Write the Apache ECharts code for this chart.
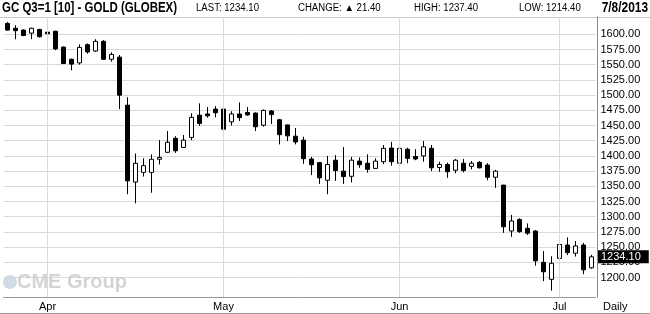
<!DOCTYPE html>
<html>
<head>
<meta charset="utf-8">
<script src="https://cdn.jsdelivr.net/npm/echarts@6/dist/echarts.min.js"></script>
<style>html,body{margin:0;padding:0;background:#fff}#c{width:650px;height:314px}</style>
</head>
<body>
<div id="c"></div>
<script>
const dates = ['2013-03-22','2013-03-25','2013-03-26','2013-03-27','2013-03-28',
'2013-04-01','2013-04-02','2013-04-03','2013-04-04','2013-04-05','2013-04-08','2013-04-09','2013-04-10','2013-04-11','2013-04-12',
'2013-04-15','2013-04-16','2013-04-17','2013-04-18','2013-04-19','2013-04-22','2013-04-23','2013-04-24','2013-04-25','2013-04-26','2013-04-29','2013-04-30',
'2013-05-01','2013-05-02','2013-05-03','2013-05-06','2013-05-07','2013-05-08','2013-05-09','2013-05-10','2013-05-13','2013-05-14','2013-05-15','2013-05-16','2013-05-17',
'2013-05-20','2013-05-21','2013-05-22','2013-05-23','2013-05-24','2013-05-28','2013-05-29','2013-05-30','2013-05-31',
'2013-06-03','2013-06-04','2013-06-05','2013-06-06','2013-06-07','2013-06-10','2013-06-11','2013-06-12','2013-06-13','2013-06-14',
'2013-06-17','2013-06-18','2013-06-19','2013-06-20','2013-06-21','2013-06-24','2013-06-25','2013-06-26','2013-06-27','2013-06-28',
'2013-07-01','2013-07-02','2013-07-03','2013-07-05','2013-07-08'];
const open  = [1618,1610,1607,1602,1608, 1603.5,1605,1579,1559,1553,1583,1572.5,1588.5,1559,1562.5,
1483.5,1357,1373,1373,1394.5,1406,1429,1414,1430.5,1467,1469,1477,
1477,1456,1469,1471.5,1470.5,1450.5,1474,1459.5,1451,1432.5,1426,1395,1389,
1360,1393,1375,1366.5,1391.5,1388,1379.5,1390.5,1413,
1388,1411,1399,1400,1412.5,1381,1386,1376.5,1388,1383,
1389.5,1385,1365,1352,1276.5,1295.5,1281,1276.5,1225,1197,
1231.5,1253.5,1240,1253.5,1216];
const close = [1607,1606,1598,1610,1596, 1601,1576,1552,1551,1578.5,1571,1588.5,1559,1567,1500,
1359,1388,1384,1394.5,1397.5,1422.5,1408.5,1426,1463.5,1453.5,1466,1471,
1444,1469,1463,1467.5,1448,1475,1468,1435,1433,1423,1395.5,1385.5,1364,
1386,1376,1366,1393,1385.5,1378,1391.5,1412.5,1390.5,
1412.5,1396,1395,1415,1380.5,1386,1374,1393,1376,1388,
1380.5,1365,1375,1283.5,1293,1275.5,1273,1227.5,1209.5,1223.5,
1254.5,1241,1252,1212.7,1234.1];
const low   = [1606,1592,1597,1592,1595, 1596,1574,1551,1541,1550,1568,1571,1558,1555,1477,
1337,1322,1366,1339.5,1386,1405,1405,1413,1426,1449.5,1463,1463.5,
1442.5,1450,1457.5,1466,1441,1448,1452.5,1419,1424.5,1419,1387,1368.5,1354,
1337,1359,1354,1356.5,1380.5,1372.5,1379,1386.5,1384,
1387.5,1388,1393,1390.5,1375,1374,1364,1371.5,1373,1378,
1379.5,1360,1347.5,1273.5,1267,1273.5,1270,1219.5,1194,1178.5,
1222,1237,1234.5,1205.5,1214.4];
const high  = [1620,1615,1608,1611,1609, 1604.5,1606,1580,1560,1583.5,1585,1592,1590.5,1570.5,1566,
1496.5,1404,1396,1402.5,1426,1441,1432.5,1434.5,1470,1486.5,1480.5,1482,
1478.5,1473.5,1488,1480.5,1471.5,1476.5,1475.5,1461,1451.5,1446,1431.5,1398.5,1389.5,
1400,1401.5,1414.5,1398.5,1397.5,1402.5,1396,1418,1423,
1416,1413.5,1411,1424.5,1418,1390.5,1389,1395,1395,1391.5,
1391.5,1388,1377,1352.5,1303,1297.5,1289,1278,1243.5,1235,
1261.5,1266,1260,1257,1237.4];
const yTicks = [1200,1225,1250,1275,1300,1325,1350,1375,1400,1425,1450,1475,1500,1525,1550,1575,1600];
const monthStarts = ['2013-04-01','2013-05-01','2013-06-03','2013-07-01'];
const monthLabels = ['Apr','May','Jun','Jul'];
const lastPrice = 1234.10;
const header = {title:'GC Q3=1 [10] - GOLD (GLOBEX)', last:'LAST: 1234.10', change:'CHANGE: \u25B2 21.40', high:'HIGH: 1237.40', low:'LOW: 1214.40', date:'7/8/2013'};

const ohlc = dates.map((d,i)=>[open[i],close[i],low[i],high[i]]);
const sans = '"Liberation Sans",Arial,sans-serif';
const chart = echarts.init(document.getElementById('c'), null, {renderer:'canvas'});
function hdr(text, x, font, sx, align){
  return {type:'text',x:x,y:8,scaleX:sx,style:{text:text,font:font,fill:'#000',align:align||'left',verticalAlign:'middle'}};
}
chart.setOption({
  animation:false,
  backgroundColor:'#fff',
  grid:{left:3.5,right:54.5,top:17,bottom:17,containLabel:false},
  xAxis:{type:'category',data:dates,boundaryGap:true,
    axisLine:{show:true,lineStyle:{color:'#999',width:1}},
    axisTick:{show:false},
    splitLine:{show:false},
    axisLabel:{margin:4,color:'#000',fontSize:11,fontFamily:sans,
      interval:(idx,val)=>monthStarts.indexOf(val)>=0,
      formatter:(val)=>{const k=monthStarts.indexOf(val);return k>=0?monthLabels[k]:'';}}},
  yAxis:{type:'value',position:'right',offset:2,min:1168,max:1628.5,scale:true,
    axisLine:{show:true,lineStyle:{color:'#888',width:1}},
    axisTick:{show:false,customValues:yTicks},
    splitLine:{show:true,lineStyle:{color:'#d9d9d9',width:1}},
    axisLabel:{customValues:yTicks,margin:3,color:'#000',fontSize:11,fontFamily:sans,
      formatter:(v)=>v.toFixed(2),padding:[3,0,0,0]}},
  series:[{
    type:'candlestick',data:ohlc,barWidth:5,
    itemStyle:{color:'#fff',color0:'#000',borderColor:'#000',borderColor0:'#000',borderWidth:1},
    markLine:{silent:true,symbol:'none',animation:false,
      data:[
        ...monthStarts.map(m=>({xAxis:m,lineStyle:{color:'#d9d9d9',width:1,type:'solid'},label:{show:false}})),
        {yAxis:lastPrice,lineStyle:{color:'rgba(0,0,0,0)',width:0},label:{show:true,position:'end',distance:2.5,
          formatter:lastPrice.toFixed(2),backgroundColor:'#000',color:'#fff',fontSize:11,
          fontFamily:sans,padding:[1,8,1,3]}}
      ]}
  }],
  graphic:[
    {type:'line',shape:{x1:0,y1:17.5,x2:650,y2:17.5},style:{stroke:'#c8c8c8',lineWidth:1},z:0},
    {type:'line',shape:{x1:0,y1:313.5,x2:650,y2:313.5},style:{stroke:'#999',lineWidth:1}},
    hdr(header.title,2,'bold 14px '+sans,0.82),
    hdr(header.last,196,'10px '+sans,0.96),
    hdr(header.change,298,'10px '+sans,0.96),
    hdr(header.high,414,'10px '+sans,0.96),
    hdr(header.low,519,'10px '+sans,0.96),
    hdr(header.date,648,'bold 14px '+sans,0.85,'right'),
    {type:'text',left:603,top:301,style:{text:'Daily',font:'11px '+sans,fill:'#000'}},
    {type:'circle',shape:{cx:10,cy:282,r:7},style:{fill:'#c4d2e0',opacity:0.8},z:1},
    {type:'text',left:17,top:272,style:{text:'CME Group',font:'bold 20px '+sans,fill:'#cdcdcd',opacity:0.85},z:1}
  ]
});
</script>
</body>
</html>
